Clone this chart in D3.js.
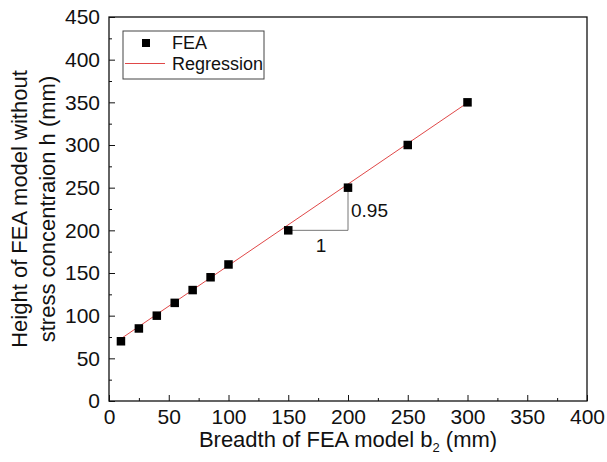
<!DOCTYPE html>
<html><head><meta charset="utf-8">
<script src="https://cdn.jsdelivr.net/npm/d3@7"></script>
<style>body{margin:0;background:#fff}svg{display:block}text{font-family:"Liberation Sans",Arial,sans-serif;fill:#111}</style>
</head><body>
<script>
const breadth = [10, 25, 40, 55, 70, 85, 100, 150, 200, 250, 300];
const height = [70, 85, 100, 115, 130, 145, 160, 200, 250, 300, 350];
const regX = [10, 300];
const regY = [73, 349.5];
const xTicks = [0, 50, 100, 150, 200, 250, 300, 350, 400];
const yTicks = [0, 50, 100, 150, 200, 250, 300, 350, 400, 450];
const triX = [150, 200, 200];
const triY = [200, 200, 250];

const W = 607, H = 462;
const m = {l: 109, r: 587, t: 17, b: 401};
const svg = d3.select("body").append("svg").attr("width", W).attr("height", H);
const x = d3.scaleLinear().domain([0, 400]).range([m.l, m.r]);
const y = d3.scaleLinear().domain([0, 450]).range([m.b, m.t]);

const xMinor = d3.range(25, 400, 50), yMinor = d3.range(25, 450, 50);
const gx = svg.append("g").attr("transform", `translate(0,${m.b})`)
  .call(d3.axisBottom(x).tickValues(xTicks).tickSizeInner(-6).tickSizeOuter(0).tickPadding(8));
gx.selectAll("text").attr("font-size", 21).attr("dy", "0.71em");
svg.append("g").attr("transform", `translate(0,${m.b})`)
  .call(d3.axisBottom(x).tickValues(xMinor).tickSize(-3).tickFormat(""))
  .select(".domain").remove();
const gy = svg.append("g").attr("transform", `translate(${m.l},0)`)
  .call(d3.axisLeft(y).tickValues(yTicks).tickSizeInner(-6).tickSizeOuter(0).tickPadding(9));
gy.selectAll("text").attr("font-size", 21);
svg.append("g").attr("transform", `translate(${m.l},0)`)
  .call(d3.axisLeft(y).tickValues(yMinor).tickSize(-3).tickFormat(""))
  .select(".domain").remove();
svg.selectAll(".domain").remove();
svg.selectAll(".tick line").attr("stroke", "#111").attr("stroke-width", 1);
svg.selectAll(".tick text").style("fill", "#111");

svg.append("rect").attr("x", m.l).attr("y", m.t).attr("width", m.r - m.l).attr("height", m.b - m.t)
  .attr("fill", "none").attr("stroke", "#111").attr("stroke-width", 1.3);

svg.append("path").attr("d", d3.line()(triX.map((v, i) => [x(v), y(triY[i])])))
  .attr("fill", "none").attr("stroke", "#777").attr("stroke-width", 1);
svg.append("text").attr("x", x(175) + 3).attr("y", y(200) + 22).attr("text-anchor", "middle").attr("font-size", 19).text("1");
svg.append("text").attr("x", x(200) + 3).attr("y", y(225) + 8).attr("font-size", 19).text("0.95");

svg.append("path").attr("d", d3.line()(regX.map((v, i) => [x(v), y(regY[i])])))
  .attr("fill", "none").attr("stroke", "#e04848").attr("stroke-width", 1);

const s = 8.5;
svg.append("g").selectAll("rect").data(breadth).join("rect")
  .attr("x", (d) => x(d) - s / 2).attr("y", (d, i) => y(height[i]) - s / 2)
  .attr("width", s).attr("height", s).attr("fill", "#000");

const lg = svg.append("g");
lg.append("rect").attr("x", 123).attr("y", 31).attr("width", 141).attr("height", 48)
  .attr("fill", "#fff").attr("stroke", "#444").attr("stroke-width", 1);
lg.append("rect").attr("x", 146 - 4).attr("y", 43 - 4).attr("width", 8).attr("height", 8).attr("fill", "#000");
lg.append("line").attr("x1", 125).attr("x2", 165).attr("y1", 63.5).attr("y2", 63.5).attr("stroke", "#e04848").attr("stroke-width", 1);
lg.append("text").attr("x", 172).attr("y", 49).attr("font-size", 18).text("FEA");
lg.append("text").attr("x", 172).attr("y", 70).attr("font-size", 18).text("Regression");

const xt = svg.append("text").attr("x", (m.l + m.r) / 2).attr("y", 447).attr("text-anchor", "middle").attr("font-size", 22);
xt.append("tspan").text("Breadth of FEA model b");
xt.append("tspan").attr("font-size", 13).attr("dy", 5).text("2");
xt.append("tspan").attr("dy", -5).text(" (mm)");
const yc = (m.t + m.b) / 2;
svg.append("text").attr("transform", `translate(27,${yc}) rotate(-90)`).attr("text-anchor", "middle").attr("font-size", 22).text("Height of FEA model without");
svg.append("text").attr("transform", `translate(55,${yc}) rotate(-90)`).attr("text-anchor", "middle").attr("font-size", 22).text("stress concentraion h (mm)");
</script>
</body></html>
